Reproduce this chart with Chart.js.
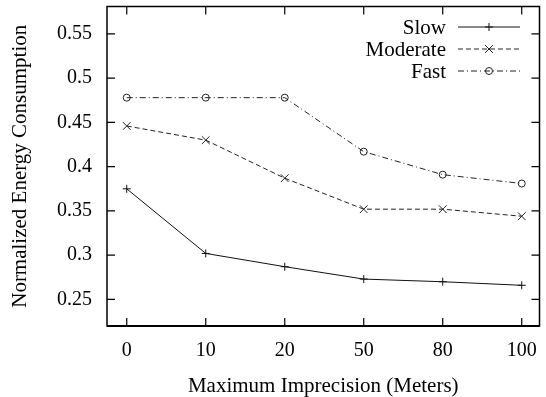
<!DOCTYPE html>
<html>
<head>
<meta charset="utf-8">
<script src="https://cdn.jsdelivr.net/npm/chart.js@4/dist/chart.umd.min.js"></script>
<style>
  html, body { margin: 0; padding: 0; background: #fff; }
  canvas { display: block; }
</style>
</head>
<body>
<canvas id="energyChart" width="546" height="397"></canvas>
<script>
// Energy consumption vs imprecision

const categories = ["0", "10", "20", "50", "80", "100"];
const slow = [0.375, 0.302, 0.287, 0.273, 0.270, 0.266];
const moderate = [0.446, 0.430, 0.387, 0.352, 0.352, 0.344];
const fast = [0.478, 0.478, 0.478, 0.417, 0.391, 0.381];
const yTicks = [0.25, 0.3, 0.35, 0.4, 0.45, 0.5, 0.55];

const FONT = "'Liberation Serif', 'DejaVu Serif', serif";

function toPoints(values) {
    return values.map((v, i) => ({ x: i, y: v }));
}

function drawMarker(ctx, style, r, x, y) {
    ctx.beginPath();
    if (style === "cross") {
        ctx.moveTo(x - r, y); ctx.lineTo(x + r, y);
        ctx.moveTo(x, y - r); ctx.lineTo(x, y + r);
    } else if (style === "crossRot") {
        const d = r * Math.SQRT1_2;
        ctx.moveTo(x - d, y - d); ctx.lineTo(x + d, y + d);
        ctx.moveTo(x - d, y + d); ctx.lineTo(x + d, y - d);
    } else {
        ctx.arc(x, y, r, 0, Math.PI * 2);
    }
    ctx.stroke();
}

// frame + inward tick marks on all four sides, gnuplot style
const framePlugin = {
    id: "frame",
    afterDatasetsDraw(chart) {
        const { ctx, chartArea: a, scales } = chart;
        ctx.save();
        ctx.strokeStyle = "#000";
        ctx.lineWidth = 1.5;
        ctx.strokeRect(a.left, a.top, a.right - a.left, a.bottom - a.top);
        ctx.lineWidth = 2;
        ctx.beginPath();
        ctx.moveTo(a.left, a.bottom);
        ctx.lineTo(a.right, a.bottom);
        ctx.stroke();
        ctx.lineWidth = 1.2;
        const len = 8;
        ctx.beginPath();
        scales.x.ticks.forEach(t => {
            const px = scales.x.getPixelForValue(t.value);
            ctx.moveTo(px, a.bottom); ctx.lineTo(px, a.bottom - len);
            ctx.moveTo(px, a.top); ctx.lineTo(px, a.top + len);
        });
        scales.y.ticks.forEach(t => {
            const py = scales.y.getPixelForValue(t.value);
            ctx.moveTo(a.left, py); ctx.lineTo(a.left + len, py);
            ctx.moveTo(a.right, py); ctx.lineTo(a.right - len, py);
        });
        ctx.stroke();
        ctx.restore();
    }
};

// legend: text on the left, line sample on the right
const keyPlugin = {
    id: "key",
    afterDraw(chart) {
        const { ctx } = chart;
        const textRight = 446, lineLeft = 458, lineRight = 520, top = 27, step = 22;
        ctx.save();
        ctx.font = "21px " + FONT;
        ctx.textAlign = "right";
        ctx.textBaseline = "middle";
        chart.data.datasets.forEach((ds, i) => {
            const y = top + i * step;
            ctx.fillStyle = "#000";
            ctx.fillText(ds.label, textRight, y + 1);
            ctx.strokeStyle = ds.borderColor;
            ctx.lineWidth = ds.borderWidth;
            ctx.setLineDash(ds.borderDash || []);
            ctx.beginPath();
            ctx.moveTo(lineLeft, y); ctx.lineTo(lineRight, y);
            ctx.stroke();
            ctx.setLineDash([]);
            drawMarker(ctx, ds.pointStyle, ds.pointRadius, (lineLeft + lineRight) / 2, y);
        });
        ctx.restore();
    }
};

new Chart(document.getElementById("energyChart"), {
    type: "line",
    data: {
        datasets: [{
            label: "Slow",
            data: toPoints(slow),
            borderColor: "#111",
            borderWidth: 1,
            pointStyle: "cross",
            pointRadius: 4,
            pointBorderColor: "#111",
            pointBorderWidth: 1,
            tension: 0
        }, {
            label: "Moderate",
            data: toPoints(moderate),
            borderColor: "#222",
            borderWidth: 1,
            borderDash: [5, 3],
            pointStyle: "crossRot",
            pointRadius: 5.5,
            pointBorderColor: "#222",
            pointBorderWidth: 1,
            tension: 0
        }, {
            label: "Fast",
            data: toPoints(fast),
            borderColor: "#222",
            borderWidth: 1,
            borderDash: [6, 3, 1, 3],
            pointStyle: "circle",
            pointRadius: 3.5,
            pointBackgroundColor: "rgba(0,0,0,0)",
            pointBorderColor: "#222",
            pointBorderWidth: 1,
            tension: 0
        }]
    },
    options: {
        responsive: false,
        animation: false,
        layout: { padding: { top: 6, right: 1, left: 0, bottom: 0 } },
        plugins: { legend: { display: false }, tooltip: { enabled: false } },
        scales: {
            x: {
                type: "linear",
                min: -0.25,
                max: 5.225,
                afterBuildTicks: scale => { scale.ticks = categories.map((c, i) => ({ value: i })); },
                afterFit: scale => {
                    scale.height = 71;
                    scale.paddingLeft = 0;
                    scale.paddingRight = 0;
                },
                grid: { display: false, drawTicks: false },
                border: { display: false },
                ticks: {
                    padding: 13,
                    color: "#000",
                    font: { family: FONT, size: 20 },
                    maxRotation: 0,
                    callback: v => categories[v]
                },
                title: {
                    display: true,
                    text: "Maximum Imprecision (Meters)",
                    color: "#000",
                    font: { family: FONT, size: 21, lineHeight: 1 },
                    padding: { top: 0, bottom: 0 }
                }
            },
            y: {
                min: 0.22,
                max: 0.581,
                afterBuildTicks: scale => { scale.ticks = yTicks.map(v => ({ value: v })); },
                afterFit: scale => {
                    scale.width = 107;
                    scale.paddingTop = 0;
                    scale.paddingBottom = 0;
                },
                grid: { display: false, drawTicks: false },
                border: { display: false },
                ticks: {
                    padding: 15,
                    color: "#000",
                    font: { family: FONT, size: 20 },
                    callback: v => String(+v.toFixed(2))
                },
                title: {
                    display: true,
                    text: "Normalized Energy Consumption",
                    color: "#000",
                    font: { family: FONT, size: 21, lineHeight: 1 },
                    padding: { top: 9.5, bottom: 0 }
                }
            }
        }
    },
    plugins: [framePlugin, keyPlugin]
});
</script>
</body>
</html>
